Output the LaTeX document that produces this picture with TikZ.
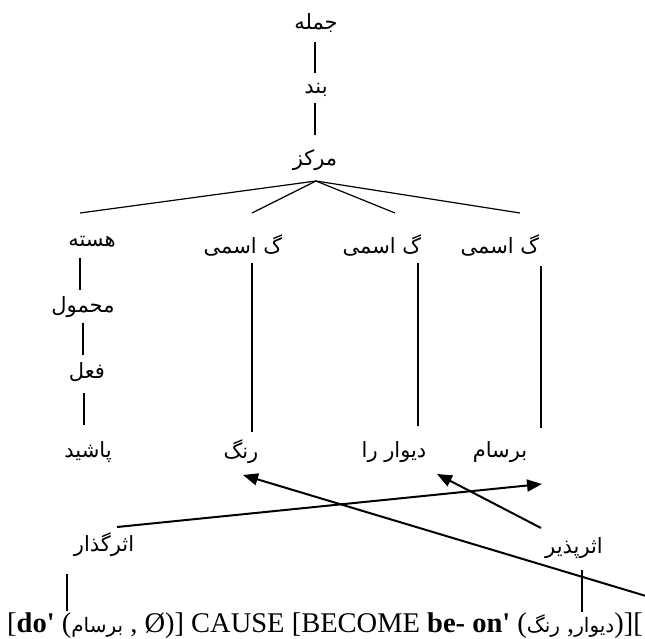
\documentclass[tikz,border=0pt]{standalone}
\usepackage{fontspec}
\setmainfont{Liberation Serif}[Ligatures=TeXOff]
\newfontfamily\fa[Script=Arabic]{DejaVu Sans}
\TeXXeTstate=1
\usetikzlibrary{arrows.meta}
\newcommand{\pr}[1]{{\fa\fontsize{20}{22}\selectfont\beginR #1\endR}}
\begin{document}
\begin{tikzpicture}[x=1pt,y=-1pt,
  lbl/.style={font=\fa\fontsize{21}{24}\selectfont, inner sep=0pt},
  tl/.style={line width=1.2pt},
  ar/.style={line width=2pt, -{Triangle[length=15pt,width=12pt]}}]
\useasboundingbox (0,0) rectangle (645,639);
% tree labels
\node[lbl] (jomle) at (316,23) {\beginR جمله\endR};
\node[lbl] (band) at (316,90) {\beginR بند\endR};
\node[lbl] (markaz) at (315,160) {\beginR مرکز\endR};
\node[lbl] (haste) at (92,242) {\beginR هسته\endR};
\node[lbl] (np1) at (243,245) {\beginR گ اسمی\endR};
\node[lbl] (np2) at (382,245) {\beginR گ اسمی\endR};
\node[lbl] (np3) at (500,245) {\beginR گ اسمی\endR};
\node[lbl] (mahmul) at (83,307) {\beginR محمول\endR};
\node[lbl] (fel) at (87,372) {\beginR فعل\endR};
\node[lbl] (pashid) at (88,452) {\beginR پاشید\endR};
\node[lbl] (rang) at (241,452) {\beginR رنگ\endR};
\node[lbl] (divar) at (394,452) {\beginR دیوار را\endR};
\node[lbl] (barsam) at (500,452) {\beginR برسام\endR};
\node[lbl] (asargozar) at (104,545) {\beginR اثرگذار\endR};
\node[lbl] (asarpazir) at (574,548) {\beginR اثرپذیر\endR};
\node[inner sep=0pt, font=\fontsize{28.5}{32}\selectfont] (formula) at (325,626)
 {[\textbf{do'} (\pr{برسام} , Ø)] CAUSE [BECOME \textbf{be- on'} (\pr{رنگ} ,\pr{دیوار})][};
% vertical tree lines
\draw[tl] (jomle.center) ++(-1,19) -- ++(0,31);
\draw[tl] (band.center) ++(-1,13) -- ++(0,32);
\draw[tl] (haste.center) ++(-12,16) -- ++(0,32);
\draw[tl] (mahmul.center) ++(0,16) -- ++(0,32);
\draw[tl] (fel.center) ++(-3,21) -- ++(0,32);
\draw[tl] (np1.center) ++(9,18) -- ++(0,169);
\draw[tl] (np2.center) ++(36,18) -- ++(0,163);
\draw[tl] (np3.center) ++(41,21) -- ++(0,162);
% fan from head
\coordinate (apex) at (316,181);
\coordinate (e0) at (80,213);
\coordinate (e1) at (252,213);
\coordinate (e2) at (395,213);
\coordinate (e3) at (520,213);
\foreach \e in {e0,e1,e2,e3} \draw[tl] (apex) -- (\e);
% arrows
\coordinate (gz) at (117,527);
\coordinate (pz) at (541,528);
\coordinate (edge) at (646,596);
\coordinate (tipB) at (542,484);
\coordinate (tipD) at (437,474);
\coordinate (tipR) at (243,475);
\draw[ar] (gz) -- (tipB);
\draw[ar] (pz) -- (tipD);
\draw[ar] (edge) -- (tipR);
% links to formula
\draw[tl] (asargozar.center) ++(-37,29) -- ++(0,37);
\draw[tl] (asarpazir.center) ++(8,22) -- ++(0,42);
\end{tikzpicture}
\end{document}
